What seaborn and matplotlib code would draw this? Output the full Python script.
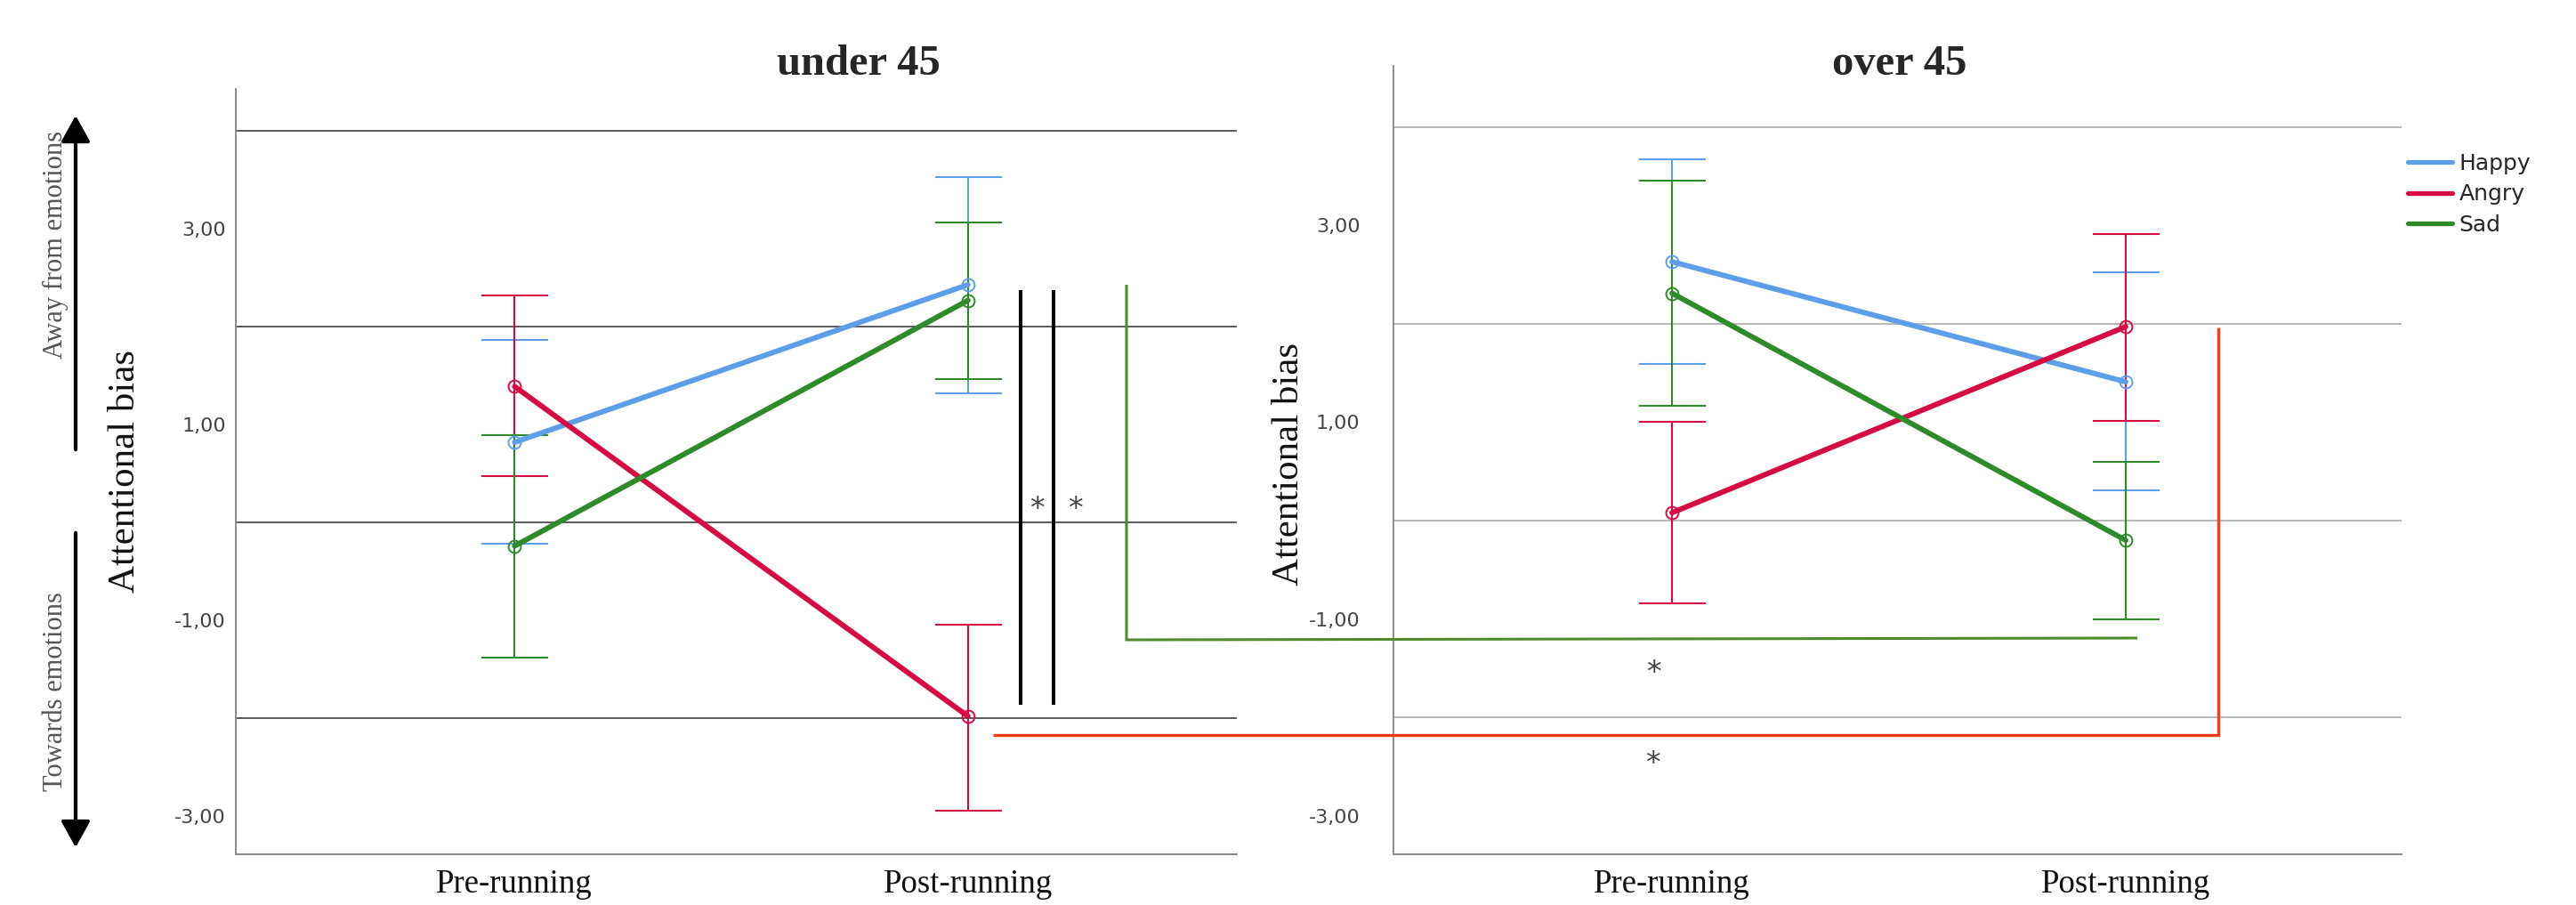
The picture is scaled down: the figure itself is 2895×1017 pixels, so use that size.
import numpy as np
import pandas as pd
import matplotlib
matplotlib.use("Agg")
import matplotlib.pyplot as plt
import seaborn as sns
from matplotlib.lines import Line2D
from matplotlib.patches import FancyArrowPatch

# ---------------- data ----------------
phases = ["Pre-running", "Post-running"]
emotions = ["Happy", "Angry", "Sad"]
panel_titles = ["under 45", "over 45"]

# under 45 : means and error bar limits (Pre, Post)
u45_happy_mean = [0.82, 2.43]
u45_happy_lo = [-0.22, 1.32]
u45_happy_hi = [1.87, 3.53]
u45_angry_mean = [1.39, -1.98]
u45_angry_lo = [0.47, -2.94]
u45_angry_hi = [2.32, -1.04]
u45_sad_mean = [-0.24, 2.27]
u45_sad_lo = [-1.38, 1.47]
u45_sad_hi = [0.89, 3.07]

# over 45
o45_happy_mean = [2.63, 1.41]
o45_happy_lo = [1.59, 0.31]
o45_happy_hi = [3.67, 2.52]
o45_angry_mean = [0.08, 1.97]
o45_angry_lo = [-0.84, 1.01]
o45_angry_hi = [1.00, 2.91]
o45_sad_mean = [2.31, -0.20]
o45_sad_lo = [1.17, -1.00]
o45_sad_hi = [3.45, 0.60]

ytick_vals = [-3, -1, 1, 3]
ytick_labels = ["-3,00", "-1,00", "1,00", "3,00"]
grid_vals = [-2, 0, 2, 4]

palette = {"Happy": "#5C9FE8", "Angry": "#D60B43", "Sad": "#2E8B2A"}


def build(prefix):
    g = globals()
    rows = []
    for emo in emotions:
        key = emo.lower()
        m = g[f"{prefix}_{key}_mean"]
        lo = g[f"{prefix}_{key}_lo"]
        hi = g[f"{prefix}_{key}_hi"]
        for i, ph in enumerate(phases):
            rows.append(dict(emotion=emo, phase=ph, x=i, mean=m[i], lo=lo[i], hi=hi[i]))
    return pd.DataFrame(rows)


df_u = build("u45")
df_o = build("o45")

# ---------------- figure ----------------
sns.set_style("white")
plt.rcParams["font.family"] = ["DejaVu Sans"]

W, H = 2895, 1017
fig = plt.figure(figsize=(W / 100, H / 100), dpi=100)


def fx(x):
    return x / W


def fy(y):
    return 1 - y / H


ax_l = fig.add_axes([fx(265), fy(960), fx(1390) - fx(265), fy(100) - fy(960)])
ax_r = fig.add_axes([fx(1566), fy(960), fx(2699) - fx(1566), fy(74) - fy(960)])

serif = ["Liberation Serif", "DejaVu Serif"]

cfg = [
    (ax_l, df_u, (-3.39, 4.43), (-0.615, 1.593), "#2e2e2e", 1.1, 8),
    (ax_r, df_o, (-3.39, 4.62), (-0.614, 1.608), "#b8b8b8", 1.4, 27),
]

for (ax, df, ylim, xlim, gcol, glw, tpad), title in zip(cfg, panel_titles):
    # error bars
    for emo in emotions:
        sub = df[df.emotion == emo]
        ax.errorbar(sub.x, sub["mean"],
                    yerr=[sub["mean"] - sub["lo"], sub["hi"] - sub["mean"]],
                    fmt="none", ecolor=palette[emo], elinewidth=1.5,
                    capsize=27, capthick=1.5, zorder=3)
    n_before = len(ax.lines)
    sns.lineplot(data=df, x="x", y="mean", hue="emotion", hue_order=emotions,
                 palette=palette, linewidth=4.3, marker="o", markersize=10,
                 errorbar=None, legend=False, ax=ax, zorder=4)
    for ln in ax.lines[n_before:]:
        c = ln.get_color()
        ln.set_markerfacecolor("none")
        ln.set_markeredgecolor(c)
        ln.set_markeredgewidth(1.4)

    ax.set_xlim(*xlim)
    ax.set_ylim(*ylim)
    ax.set_xticks(range(len(phases)))
    ax.set_xticklabels(phases, fontsize=26.5, family=serif, color="#111111")
    ax.set_yticks(ytick_vals)
    ax.set_yticklabels(ytick_labels, fontsize=16, color="#444444")
    ax.set_yticks(grid_vals, minor=True)
    ax.tick_params(axis="both", which="both", length=0)
    ax.tick_params(axis="y", pad=tpad)
    ax.tick_params(axis="x", pad=12)
    ax.grid(False)
    ax.grid(True, which="minor", axis="y", color=gcol, linewidth=glw, zorder=0)
    ax.set_axisbelow(True)
    for s in ["top", "right"]:
        ax.spines[s].set_visible(False)
    for s in ["left", "bottom"]:
        ax.spines[s].set_color("#8a8a8a")
        ax.spines[s].set_linewidth(1.4)
    ax.set_xlabel("")
    ax.set_ylabel("Attentional bias", fontsize=31, family=serif, color="#111111")

ax_l.yaxis.set_label_coords((160 - 265) / 1125, 0.5)
ax_r.yaxis.set_label_coords((1468 - 1566) / 1133, 0.495)

# titles
fig.text(fx(965), fy(72), panel_titles[0], fontsize=35, fontweight="bold",
         family=serif, ha="center", va="center")
fig.text(fx(2135), fy(72), panel_titles[1], fontsize=35, fontweight="bold",
         family=serif, ha="center", va="center")

# legend
handles = [Line2D([], [], color=palette[e], lw=3.8) for e in emotions]
fig.legend(handles, emotions, loc="upper left", bbox_to_anchor=(fx(2706), fy(172)),
           bbox_transform=fig.transFigure, frameon=False, fontsize=18,
           handlelength=2.0, handletextpad=0.3, labelspacing=0.42,
           borderpad=0, borderaxespad=0)


# ---------------- annotations (figure pixel coords) ----------------
def fline(xs, ys, color, lw):
    fig.add_artist(Line2D([fx(x) for x in xs], [fy(y) for y in ys],
                          transform=fig.transFigure, color=color, lw=lw,
                          solid_capstyle="butt", solid_joinstyle="miter"))


def star(x, y):
    fig.text(fx(x), fy(y), "*", fontsize=24, color="#444444",
             ha="center", va="center")


fline([1147, 1147], [326, 792], "black", 2.9)
fline([1184, 1184], [326, 792], "black", 2.9)
star(1165, 572)
star(1208, 572)

fline([1266, 1266, 2402], [320, 719, 717], "#4F8A2B", 2.2)
star(1858, 757)

fline([1116, 2493, 2493], [826, 826, 368], "#FF3A14", 2.4)
star(1857, 859)

for (y0, y1) in [(508, 127), (596, 955)]:
    fig.add_artist(FancyArrowPatch((fx(85), fy(y0)), (fx(85), fy(y1)),
                                   transform=fig.transFigure,
                                   arrowstyle="-|>,head_length=0.9,head_width=0.5",
                                   mutation_scale=20, color="black", lw=3))

fig.text(fx(62), fy(275), "Away from emotions", rotation=90, fontsize=22,
         family=serif, color="#555555", ha="center", va="center")
fig.text(fx(62), fy(777), "Towards emotions", rotation=90, fontsize=22,
         family=serif, color="#555555", ha="center", va="center")

fig.savefig("out.png", dpi=100, facecolor="white")
